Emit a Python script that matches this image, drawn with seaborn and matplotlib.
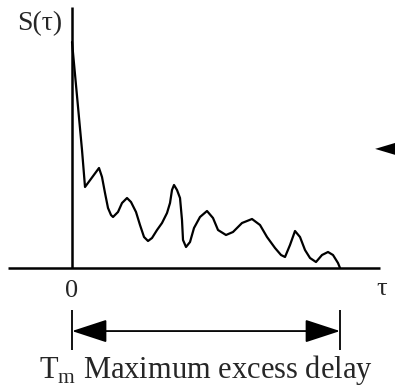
import numpy as np
import pandas as pd
import seaborn as sns
import matplotlib
matplotlib.use("Agg")
import matplotlib.pyplot as plt
from matplotlib.patches import Polygon

# Power delay profile S(tau); tau in units where the maximum excess delay Tm = 10
tau = [0.000, 0.373, 0.485, 1.007, 1.119, 1.231, 1.343, 1.455, 1.530, 1.716,
       1.866, 2.052, 2.201, 2.388, 2.537, 2.687, 2.836, 2.985, 3.172, 3.358,
       3.545, 3.657, 3.731, 3.806, 3.918, 4.030, 4.104, 4.142, 4.254, 4.403,
       4.552, 4.776, 5.037, 5.261, 5.448, 5.746, 6.007, 6.343, 6.716, 7.015,
       7.276, 7.575, 7.799, 7.948, 8.134, 8.321, 8.507, 8.694, 8.881, 9.104,
       9.328, 9.552, 9.739, 9.925, 10.000]
power = [10.000, 5.221, 3.584, 4.425, 4.027, 3.319, 2.655, 2.345, 2.257, 2.478,
         2.876, 3.097, 2.920, 2.478, 1.903, 1.372, 1.195, 1.327, 1.681, 1.991,
         2.434, 2.876, 3.451, 3.673, 3.451, 3.097, 2.124, 1.239, 0.929, 1.150,
         1.770, 2.257, 2.522, 2.212, 1.681, 1.460, 1.593, 1.991, 2.168, 1.903,
         1.372, 0.885, 0.575, 0.487, 1.018, 1.637, 1.372, 0.796, 0.442, 0.265,
         0.575, 0.708, 0.575, 0.221, 0.000]
tm = 10.0
tick_labels = ["0"]

df = pd.DataFrame({"tau": tau, "S": power})

sns.set_style("white")
plt.rcParams["font.family"] = ["Liberation Serif", "DejaVu Serif"]
plt.rcParams["mathtext.fontset"] = "custom"
plt.rcParams["mathtext.rm"] = "Liberation Serif"

fig = plt.figure(figsize=(3.95, 3.90), dpi=100)
ax = fig.add_axes([0, 0, 1, 1])
ax.set_xlim(-2.687, 12.052)
ax.set_ylim(-5.398, 11.858)
ax.axis("off")

# axes drawn as plain lines
ax.plot([-2.39, 11.49], [0, 0], color="black", lw=1.8, solid_capstyle="butt")
ax.plot([0, 0], [0, 11.55], color="black", lw=1.8, solid_capstyle="butt")

sns.lineplot(data=df, x="tau", y="S", ax=ax, color="black", lw=1.6,
             sort=False, estimator=None)
ax.lines[-1].set_solid_joinstyle("round")

ax.text(-1.19, 10.82, "S(τ)", ha="center", va="center", fontsize=20)
ax.text(0, -1.02, tick_labels[0], ha="center", va="center", fontsize=19)
ax.text(11.55, -0.93, "τ", ha="center", va="center", fontsize=19)

# Tm bracket
for x in (0, tm):
    ax.plot([x, x], [-1.86, -3.63], color="black", lw=1.3, solid_capstyle="butt")
ax.annotate("", xy=(tm, -2.79), xytext=(0, -2.79),
            arrowprops=dict(arrowstyle="<|-|>,head_length=2.2,head_width=0.72",
                            mutation_scale=10, color="black", lw=1.3,
                            shrinkA=0, shrinkB=0))
ax.text(tm / 2, -4.87, r"T$_{\mathregular{m}}$ Maximum excess delay",
        ha="center", va="baseline", fontsize=22)

# arrowhead entering from the right margin
ax.add_patch(Polygon([[11.31, 5.27], [12.30, 5.62], [12.30, 4.92]],
                     closed=True, color="black", lw=0))

fig.savefig("out.png", dpi=100)
